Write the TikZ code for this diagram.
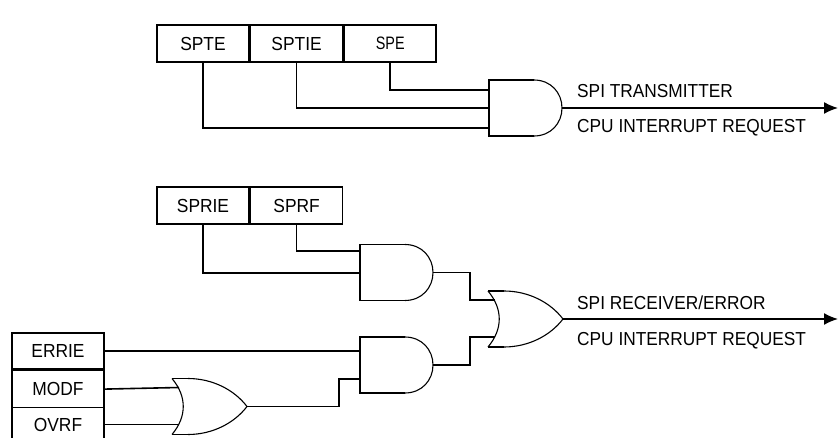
\documentclass[tikz,border=0pt]{standalone}
\usetikzlibrary{arrows.meta}
\usepackage{fontspec}
\setmainfont[FakeStretch=0.92]{Liberation Sans}
\newfontfamily\narrowfont[FakeStretch=0.8]{Liberation Sans}
\tikzset{
  wire/.style={line width=1.6pt},
  arc/.style={line width=1.1pt},
  regbox/.style={draw, line width=1.6pt, minimum width=92pt, minimum height=37pt, inner sep=0pt, font=\fontsize{18.9}{20}\selectfont},
  lbl/.style={font=\fontsize{18.8}{20}\selectfont, inner sep=0pt, anchor=base west},
  arrow/.style={wire, -{Latex[length=14pt,width=12pt]}}
}
% gate outlines: name, left, top
\newcommand{\andgate}[3]{
  \coordinate (#1out) at (#2+73,#3+28);
  \draw[wire] (#2+45,#3) -- (#2,#3) -- (#2,#3+56) -- (#2+45,#3+56);
  \draw[arc] (#2+45,#3) .. controls (#2+62,#3) and (#2+73,#3+13) .. (#2+73,#3+28)
    .. controls (#2+73,#3+43) and (#2+62,#3+56) .. (#2+45,#3+56);
}
\newcommand{\orgate}[3]{
  \coordinate (#1out) at (#2+75,#3+28);
  \coordinate (#1a) at (#2+7,#3+9);
  \coordinate (#1b) at (#2+7,#3+46);
  \draw[wire] (#2,#3) -- (#2+16,#3) (#2,#3+56) -- (#2+16,#3+56);
  \draw[arc] (#2,#3) .. controls (#2+15,#3+18) and (#2+15,#3+38) .. (#2,#3+56);
  \draw[arc] (#2+16,#3) .. controls (#2+40,#3) and (#2+62,#3+11) .. (#2+75,#3+28)
    .. controls (#2+62,#3+45) and (#2+40,#3+56) .. (#2+16,#3+56);
}
\begin{document}
\begin{tikzpicture}[x=1pt, y=-1pt]
  \useasboundingbox (0,0) rectangle (838,438);

  \node[regbox] (SPTE)  at (203,43.5) {SPTE};
  \node[regbox, anchor=west] (SPTIE) at (SPTE.east) {SPTIE};
  \node[regbox, anchor=west, font=\narrowfont\fontsize{18}{20}\selectfont] (SPE) at (SPTIE.east) {SPE};

  \node[regbox] (SPRIE) at (203,205.5) {SPRIE};
  \node[regbox, anchor=west] (SPRF) at (SPRIE.east) {SPRF};

  \node[regbox, minimum height=36pt] (ERRIE) at (58,351) {ERRIE};
  \node[regbox, anchor=north] (MODF) at (ERRIE.south) {MODF};
  \node[font=\fontsize{18.9}{20}\selectfont, inner sep=0pt] (OVRF) at (58,424.5) {OVRF};
  \coordinate (OVRFout) at (104,424.5);
  \draw[wire] (12,406) -- (12,438) (104,406) -- (104,438);

  \andgate{TX}{489}{80}
  \andgate{RXA}{360}{244.5}
  \andgate{RXB}{360}{337}
  \orgate{RXC}{488}{291}
  \orgate{FLT}{172}{378.5}

  \coordinate (TXend) at (838,108);
  \coordinate (RXend) at (838,319);

  % transmitter
  \draw[wire] (SPE.south) |- (489,90);
  \draw[wire] (SPTIE.south) |- (489,108);
  \draw[wire] (SPTE.south) |- (489,128);
  \draw[arrow] (TXout) -- (TXend);

  % receiver
  \draw[wire] (SPRF.south) |- (360,251);
  \draw[wire] (SPRIE.south) |- (360,273);
  \draw[wire] (RXAout) -| (470,300) -- (RXCa);
  \draw[wire] (RXBout) -| (470,337) -- (RXCb);
  \draw[wire] (ERRIE.east) -- (360,351);
  \draw[wire] (MODF.east) -- (FLTa);
  \draw[wire] (OVRFout) -- (FLTb);
  \draw[wire] (FLTout) -| (339,379) -- (360,379);
  \draw[arrow] (RXCout) -- (RXend);

  \node[lbl] (TXA) at (577,98) {SPI TRANSMITTER};
  \node[lbl] (TXB) at (577,133) {CPU INTERRUPT REQUEST};
  \node[lbl] (RXA) at (577,309) {SPI RECEIVER/ERROR};
  \node[lbl] (RXB) at (577,345) {CPU INTERRUPT REQUEST};
\end{tikzpicture}
\end{document}
